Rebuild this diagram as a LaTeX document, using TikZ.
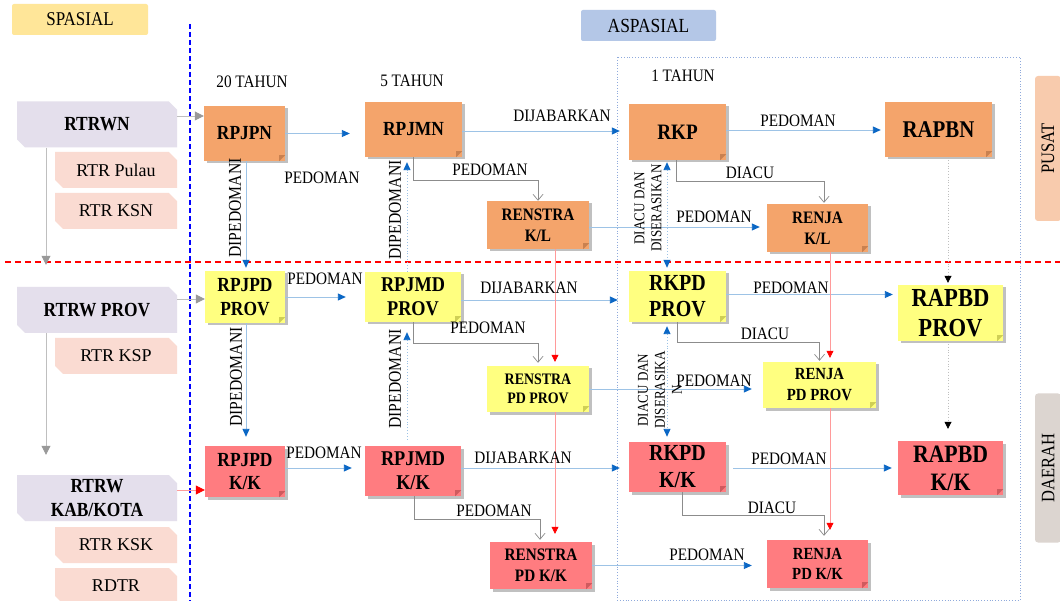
\documentclass[tikz,border=0pt]{standalone}
\usepackage{fontspec}
\setmainfont{Liberation Serif}[FakeStretch=0.87]
\newfontfamily\wideserif{Liberation Serif}
\usetikzlibrary{shapes.misc,shadows,arrows.meta,calc}
\definecolor{cor}{HTML}{F4A46B}
\definecolor{corD}{HTML}{C98150}
\definecolor{cyl}{HTML}{FFFF80}
\definecolor{cylD}{HTML}{CFCF55}
\definecolor{crd}{HTML}{FF7C80}
\definecolor{crdD}{HTML}{CF5A5E}
\definecolor{clav}{HTML}{E4DFEC}
\definecolor{cpink}{HTML}{FADBD2}
\definecolor{cspa}{HTML}{FFE699}
\definecolor{caspa}{HTML}{B4C7E7}
\definecolor{cpusat}{HTML}{F8CBAD}
\definecolor{cdaerah}{HTML}{DCD5D0}
\definecolor{lblue}{HTML}{9DC3E6}
\definecolor{dblue}{HTML}{0B67C5}
\definecolor{lgray}{HTML}{BFBFBF}
\definecolor{mgray}{HTML}{8C8C8C}
\definecolor{lred}{HTML}{FF9A9A}
\definecolor{tahun}{HTML}{8FAADC}
\newcommand\myfs[2]{\fontsize{#1}{#2}\selectfont}
\begin{document}
\begin{tikzpicture}[x=1pt,y=-1pt,
  box/.style={inner sep=0pt, align=center, drop shadow={shadow xshift=2.5pt, shadow yshift=-2.5pt, opacity=0.35, fill=black!70}},
  sz/.style 2 args={minimum width=#1pt, minimum height=#2pt},
  f/.style 2 args={font=\bfseries\myfs{#1}{#2}},
  ob/.style={box, fill=cor}, yb/.style={box, fill=cyl}, rb/.style={box, fill=crd},
  cham/.style={chamfered rectangle, chamfered rectangle corners={north east,south west}, chamfered rectangle xsep=5pt, inner sep=0pt, align=center},
  lav/.style={cham, fill=clav, font=\bfseries\myfs{20}{24}, sz={160}{46}},
  pnk/.style={cham, fill=cpink, font=\wideserif\myfs{18}{20}, sz={122}{36}},
  lbl/.style={inner sep=0pt, font=\myfs{17.5}{20}},
  vlbl/.style={inner sep=0pt, font=\myfs{18}{20}, rotate=90},
  vlbl2/.style={inner sep=0pt, font=\myfs{15}{17}, rotate=90, align=center},
  tab/.style={inner sep=0pt, rounded corners=3pt, rotate=90, font=\myfs{19}{22}},
  hdr/.style={inner sep=0pt, rounded corners=2pt},
  barrow/.style={draw=lblue, line width=0.9pt, -{Triangle[length=8pt,width=7pt,color=dblue]}},
  bdot/.style={draw=lblue, line width=0.9pt, dotted, -{Triangle[length=8pt,width=7pt,color=dblue]}},
  bdot2/.style={draw=lblue, line width=0.9pt, dotted, {Triangle[length=8pt,width=7pt,color=dblue]}-{Triangle[length=8pt,width=7pt,color=dblue]}},
  kdot/.style={draw=lgray, line width=0.8pt, dotted, -{Triangle[length=7pt,width=7pt,color=black]}},
  rline/.style={draw=lred, line width=0.6pt, -{Triangle[length=7pt,width=7pt,color=red]}},
  gelb/.style={draw=mgray, line width=0.7pt, -{Straight Barb[length=6pt,width=10pt]}},
  grayf/.style={draw=lgray, line width=0.8pt, -{Triangle[length=9pt,width=9pt,color=lgray!80!black]}},
  redf/.style={draw=lred, line width=0.8pt, -{Triangle[length=9pt,width=9pt,color=red]}},
]
\useasboundingbox (0,0) rectangle (1060,601);
\fill[white] (0,0) rectangle (1060,601);

% background guides
\draw[tahun, dotted, line width=0.8pt] (617,57) rectangle (1020,600);
\draw[red, line width=1.3pt, dash pattern=on 6pt off 4pt] (5,262) -- (1060,262);
\draw[blue, line width=1.5pt, dash pattern=on 5pt off 3pt] (190,24) -- (190,601);

% headers
\node[hdr, fill=cspa, sz={136}{31}, font=\myfs{19.5}{22}] (spasial) at (80,19.5) {SPASIAL};
\node[hdr, fill=caspa, sz={135}{31}, font=\myfs{20}{22}] (aspasial) at (648.5,25.5) {ASPASIAL};
\node[tab, fill=cpusat, sz={145}{26}] (pusat) at (1048,148.5) {PUSAT};
\node[tab, fill=cdaerah, sz={149}{26}] (daerah) at (1048,468) {DAERAH};
\node[lbl] (t20) at (252,82) {20 TAHUN};
\node[lbl] (t5) at (412,81) {5 TAHUN};
\node[lbl] (t1) at (683,76) {1 TAHUN};

% left column
\node[lav] (rtrwn) at (97,124.5) {RTRWN};
\node[pnk] (rtrpulau) at (116,170) {RTR Pulau};
\node[pnk] (rtrksn) at (116,211) {RTR KSN};
\node[lav] (rtrwprov) at (97,310) {RTRW PROV};
\node[pnk] (rtrksp) at (116,356) {RTR KSP};
\node[lav] (rtrwkk) at (97,498) {RTRW\\KAB/KOTA};
\node[pnk] (rtrksk) at (116,545) {RTR KSK};
\node[pnk] (rdtr) at (116,586) {RDTR};

% main boxes
\node[ob, sz={81}{55}, f={20}{24}] (rpjpn) at (244.5,133.5) {RPJPN};
\node[ob, sz={97}{55}, f={20}{24}] (rpjmn) at (413.5,129.5) {RPJMN};
\node[ob, sz={97}{56}, f={22}{26}] (rkp) at (677.5,132) {RKP};
\node[ob, sz={107}{55}, f={24}{28}] (rapbn) at (938.5,129.5) {RAPBN};
\node[ob, sz={102}{48}, f={17.5}{21}] (renstrakl) at (538,225) {RENSTRA\\K/L};
\node[ob, sz={101}{48}, f={17.5}{21}] (renjakl) at (817.5,228) {RENJA\\K/L};

\node[yb, sz={80}{52}, f={20}{24}] (rpjpdprov) at (245,297) {RPJPD\\PROV};
\node[yb, sz={96}{50}, f={21}{24}] (rpjmdprov) at (413,297) {RPJMD\\PROV};
\node[yb, sz={97}{51}, f={23}{26}] (rkpdprov) at (677.5,296.5) {RKPD\\PROV};
\node[yb, sz={105}{56}, f={26}{30}] (rapbdprov) at (950.5,313) {RAPBD\\PROV};
\node[yb, sz={102}{46}, f={16}{19}] (renstrapdprov) at (538,389) {RENSTRA\\PD PROV};
\node[yb, sz={113}{46}, f={17}{21}] (renjapdprov) at (819.5,385) {RENJA\\PD PROV};

\node[rb, sz={80}{51}, f={20}{23.5}] (rpjpdkk) at (245,471.5) {RPJPD\\K/K};
\node[rb, sz={96}{50}, f={21}{24}] (rpjmdkk) at (413,471) {RPJMD\\K/K};
\node[rb, sz={97}{50}, f={23}{27}] (rkpdkk) at (677.5,467) {RKPD\\K/K};
\node[rb, sz={105}{54}, f={25}{28}] (rapbdkk) at (950.5,468) {RAPBD\\K/K};
\node[rb, sz={102}{47}, f={17.5}{21}] (renstrapdkk) at (541,565.5) {RENSTRA\\PD K/K};
\node[rb, sz={101}{48}, f={17}{20.5}] (renjapdkk) at (817.5,564) {RENJA\\PD K/K};

% folded corners
\foreach \n/\c in {rpjpn/corD, rpjmn/corD, rkp/corD, rapbn/corD, renstrakl/corD, renjakl/corD,
  rpjpdprov/cylD, rpjmdprov/cylD, rkpdprov/cylD, rapbdprov/cylD, renstrapdprov/cylD, renjapdprov/cylD,
  rpjpdkk/crdD, rpjmdkk/crdD, rkpdkk/crdD, rapbdkk/crdD, renstrapdkk/crdD, renjapdkk/crdD}
  \fill[\c] ([xshift=-6pt]\n.south east) -- ([yshift=6pt]\n.south east) -- ([xshift=-6pt,yshift=6pt]\n.south east) -- cycle;

% left-side connectors
\coordinate (c1) at ([yshift=8.5pt]rtrwn.east);
\draw[grayf] (c1) -- (rpjpn.west |- c1);
\coordinate (c2) at ([yshift=11pt]rtrwprov.east);
\draw[grayf] (c2) -- (rpjpdprov.west |- c2);
\coordinate (c3) at ([yshift=8pt]rtrwkk.east);
\draw[redf] (c3) -- (rpjpdkk.west |- c3);
\coordinate (c4) at ([xshift=-51pt]rtrwn.south);
\draw[grayf, shorten >=22pt] (c4) -- (c4 |- rtrwprov.north);
\coordinate (c5) at ([xshift=-51pt]rtrwprov.south);
\draw[grayf, shorten >=20pt] (c5) -- (c5 |- rtrwkk.north);

% horizontal blue arrows
\draw[barrow, shorten >=15pt] (rpjpn.east) -- (rpjmn.west |- rpjpn.east);
\coordinate (h2) at ([yshift=-1.5pt]rpjmn.east);
\draw[barrow, shorten >=9pt] (h2) -- (rkp.west |- h2);
\coordinate (h3) at ([yshift=2pt]rkp.east);
\draw[barrow, shorten >=4pt] (h3) -- (rapbn.west |- h3);
\coordinate (h4) at ([yshift=-2pt]renstrakl.east);
\draw[barrow, shorten >=7pt] (h4) -- (renjakl.west |- h4);
\draw[barrow, shorten >=19pt] (rpjpdprov.east) -- (rpjmdprov.west |- rpjpdprov.east);
\coordinate (h6) at ([yshift=-3pt]rpjmdprov.east);
\draw[barrow, shorten >=11pt] (h6) -- (rkpdprov.west |- h6);
\coordinate (h7) at ([yshift=2pt]rkpdprov.east);
\draw[barrow, shorten >=5pt] (h7) -- (rapbdprov.west |- h7);
\draw[barrow, shorten >=11pt] (renstrapdprov.east) -- (renjapdprov.west |- renstrapdprov.east);
\coordinate (h9) at ([yshift=3.5pt]rpjpdkk.east);
\draw[barrow, shorten >=13pt] (h9) -- (rpjmdkk.west |- h9);
\coordinate (h10) at ([yshift=3pt]rpjmdkk.east);
\draw[barrow, shorten >=9pt] (h10) -- (rkpdkk.west |- h10);
\coordinate (h11) at ([yshift=-1pt]rkpdkk.east);
\draw[barrow, shorten <=7pt, shorten >=6pt] (h11) -- (rapbdkk.west |- h11);
\draw[barrow, shorten >=15pt] (renstrapdkk.east) -- (renjapdkk.west |- renstrapdkk.east);

% vertical blue arrows
\coordinate (v1) at ([xshift=1.5pt]rpjpn.south);
\draw[barrow, shorten >=3pt] (v1) -- (v1 |- rpjpdprov.north);
\coordinate (v2) at ([xshift=1pt]rpjpdprov.south);
\draw[barrow, shorten >=9pt] (v2) -- (v2 |- rpjpdkk.north);
\coordinate (d1) at ([xshift=-6pt]rpjmdprov.north);
\draw[bdot, shorten >=5pt] (d1) -- (d1 |- rpjmn.south);
\coordinate (d2) at ([xshift=-6pt]rpjmdkk.north);
\draw[bdot, shorten <=6pt, shorten >=10pt] (d2) -- (d2 |- rpjmdprov.south);
\coordinate (d3) at ([xshift=-10.5pt]rkpdprov.north);
\draw[bdot2, shorten <=2pt, shorten >=3pt] (d3 |- rkp.south) -- (d3);
\coordinate (d4) at ([xshift=-10.5pt]rkpdkk.north);
\draw[bdot2, shorten <=4pt, shorten >=5pt] (d4 |- rkpdprov.south) -- (d4);

% budget dotted arrows
\coordinate (e1) at ([xshift=9.5pt]rapbn.south);
\draw[kdot, shorten >=2pt] (e1) -- (e1 |- rapbdprov.north);
\coordinate (e2) at ([xshift=-2.5pt]rapbdprov.south);
\draw[kdot, shorten >=12pt] (e2) -- (e2 |- rapbdkk.north);

% red vertical lines
\coordinate (r1) at ([xshift=17pt]renstrakl.south);
\draw[rline, shorten >=4pt] (r1) -- (r1 |- renstrapdprov.north);
\coordinate (r2) at ([xshift=17pt]renstrapdprov.south);
\draw[rline, shorten >=8pt] (r2) -- (r2 |- renstrapdkk.north);
\coordinate (r3) at ([xshift=12.5pt]renjakl.south);
\draw[rline, shorten >=4pt] (r3) -- (r3 |- renjapdprov.north);
\coordinate (r4) at ([xshift=10.5pt]renjapdprov.south);
\draw[rline, shorten >=10pt] (r4) -- (r4 |- renjapdkk.north);

% gray elbow connectors
\draw[gelb] (rpjmn.south) -- ++(0,23) -| (renstrakl.north);
\draw[gelb, shorten >=1pt] ([xshift=-1.5pt]rkp.south) -- ++(0,21) -| ([xshift=6.5pt]renjakl.north);
\draw[gelb, shorten >=3pt] (rpjmdprov.south) -- ++(0,21) -| (renstrapdprov.north);
\draw[gelb, shorten >=1pt] ([xshift=-0.5pt]rkpdprov.south) -- ++(0,20) -| (renjapdprov.north);
\draw[gelb, shorten >=2pt] ([xshift=1pt]rpjmdkk.south) -- ++(0,23) -| ([xshift=-1pt]renstrapdkk.north);
\draw[gelb, shorten >=4pt] ([xshift=4.5pt]rkpdkk.south) -- ++(0,23) -| ([xshift=6.5pt]renjapdkk.north);

% labels
\node[lbl] (l1) at (322,178) {PEDOMAN};
\node[lbl] (l2) at (562,116) {DIJABARKAN};
\node[lbl] (l3) at (798,121) {PEDOMAN};
\node[lbl] (l4) at (490,170) {PEDOMAN};
\node[lbl] (l5) at (750,173) {DIACU};
\node[lbl] (l6) at (714,217) {PEDOMAN};
\node[lbl] (l7) at (325,279) {PEDOMAN};
\node[lbl] (l8) at (529,288) {DIJABARKAN};
\node[lbl] (l9) at (791,288) {PEDOMAN};
\node[lbl] (l10) at (488,328) {PEDOMAN};
\node[lbl] (l11) at (765,334) {DIACU};
\node[lbl] (l12) at (714,381) {PEDOMAN};
\node[lbl] (l13) at (324,453) {PEDOMAN};
\node[lbl] (l14) at (523,458) {DIJABARKAN};
\node[lbl] (l15) at (789,459) {PEDOMAN};
\node[lbl] (l16) at (494,511) {PEDOMAN};
\node[lbl] (l17) at (772,508) {DIACU};
\node[lbl] (l18) at (707,555) {PEDOMAN};
\node[vlbl] (v11) at (235,208) {DIPEDOMANI};
\node[vlbl] (v12) at (395,210) {DIPEDOMANI};
\node[vlbl] (v13) at (236,377) {DIPEDOMANI};
\node[vlbl] (v14) at (395,379) {DIPEDOMANI};
\node[vlbl2] (v15) at (648,208) {DIACU DAN\\DISERASIKAN};
\node[vlbl2] (v16) at (660,390) {DIACU DAN\\DISERASIKA\\N};
\end{tikzpicture}
\end{document}
